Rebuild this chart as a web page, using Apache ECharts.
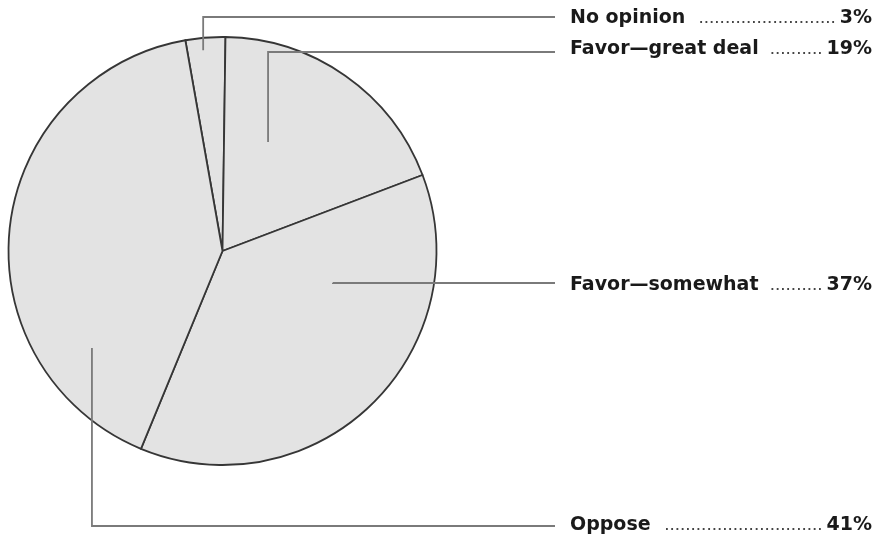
<!DOCTYPE html>
<html>
<head>
<meta charset="utf-8">
<script src="https://cdn.jsdelivr.net/npm/echarts@6/dist/echarts.min.js"></script>
<style>
  html, body { margin: 0; padding: 0; background: #ffffff; }
  #chart { width: 884px; height: 537px; }
</style>
</head>
<body>
<div id="chart"></div>
<script>
// Survey answers, in legend order
const categories = ['No opinion', 'Favor\u2014great deal', 'Favor\u2014somewhat', 'Oppose'];
const shares = [3, 19, 37, 41];

// Pie geometry (pixels) and drawing direction
const CX = 222.5, CY = 251, R = 214;
const START_ANGLE = 100;

// Label column and leader rows
const labelLeft = 570, labelRight = 872, leaderEnd = 555;
const rowY = [17, 52, 283, 526];
const textY = [18, 49, 285, 525];
// Where each leader starts inside its slice: fraction of the slice's sweep, fraction of the radius
const anchorSweep = [0.417, 0.32, 0.277, 0.21];
const anchorRadius = [0.943, 0.552, 0.537, 0.76];

const NAME_FONT = 'bold 19px "DejaVu Sans"';
const DOT_FONT = '19px "Liberation Sans"';
const GAP_BEFORE_DOTS = 10, GAP_AFTER_DOTS = 4;

const measureCtx = document.createElement('canvas').getContext('2d');
function textWidth(s, font) { measureCtx.font = font; return measureCtx.measureText(s).width; }

const total = shares.reduce((a, b) => a + b, 0);

// Slice sweep in degrees, clockwise from 12 o'clock
function sliceBounds(i) {
  let before = 0;
  for (let k = 0; k < i; k++) before += shares[k];
  const s = (90 - START_ANGLE) + 360 * before / total;
  return [s, s + 360 * shares[i] / total];
}

function anchorPoint(i) {
  const [s, e] = sliceBounds(i);
  const a = (s + anchorSweep[i] * (e - s)) * Math.PI / 180;
  const r = anchorRadius[i] * R;
  return [CX + r * Math.sin(a), CY - r * Math.cos(a)];
}

function dotLeader(name, valueText) {
  const avail = (labelRight - labelLeft) - textWidth(name, NAME_FONT) - textWidth(valueText, NAME_FONT)
    - GAP_BEFORE_DOTS - GAP_AFTER_DOTS;
  const n = Math.max(0, Math.floor(avail / textWidth('.', DOT_FONT)));
  return '.'.repeat(n);
}

const pieData = categories.map((name, i) => ({ name: name, value: shares[i] }));

const pieBase = {
  type: 'pie',
  center: [CX, CY],
  radius: R,
  startAngle: START_ANGLE,
  clockwise: true,
  avoidLabelOverlap: false,
  silent: true,
  emphasis: { disabled: true },
  data: pieData
};

const chart = echarts.init(document.getElementById('chart'), null, { renderer: 'canvas' });

chart.setOption({
  backgroundColor: '#ffffff',
  animation: false,
  series: [
    // The shaded slices
    Object.assign({}, pieBase, {
      z: 2,
      itemStyle: { color: '#e3e3e3', borderColor: '#363636', borderWidth: 1.8 },
      label: { show: false },
      labelLine: { show: false }
    }),
    // Labels with their elbow leaders, drawn over the slices
    Object.assign({}, pieBase, {
      z: 3,
      itemStyle: { color: 'rgba(0,0,0,0)', borderWidth: 0 },
      label: {
        show: true,
        position: 'outside',
        width: labelRight - labelLeft,
        overflow: 'none',
        formatter: function (p) {
          const v = p.value + '%';
          return '{n|' + p.name + '}{d|' + dotLeader(p.name, v) + '}{v|' + v + '}';
        },
        rich: {
          n: { fontFamily: 'DejaVu Sans', fontWeight: 'bold', fontSize: 19, lineHeight: 22, color: '#1a1a1a' },
          d: { fontFamily: 'Liberation Sans', fontSize: 19, lineHeight: 22, color: '#444444', align: 'right',
               padding: [0, GAP_AFTER_DOTS, 0, 0] },
          v: { fontFamily: 'DejaVu Sans', fontWeight: 'bold', fontSize: 19, lineHeight: 22, color: '#1a1a1a', align: 'right' }
        }
      },
      labelLine: {
        show: true,
        smooth: false,
        length: 10,
        length2: 10,
        lineStyle: { color: '#7a7a7a', width: 1.8 }
      },
      labelLayout: function (p) {
        const i = p.dataIndex;
        const a = anchorPoint(i);
        return {
          x: labelLeft,
          y: textY[i],
          align: 'left',
          verticalAlign: 'middle',
          labelLinePoints: [a, [a[0], rowY[i]], [leaderEnd, rowY[i]]]
        };
      }
    })
  ]
});
</script>
</body>
</html>
